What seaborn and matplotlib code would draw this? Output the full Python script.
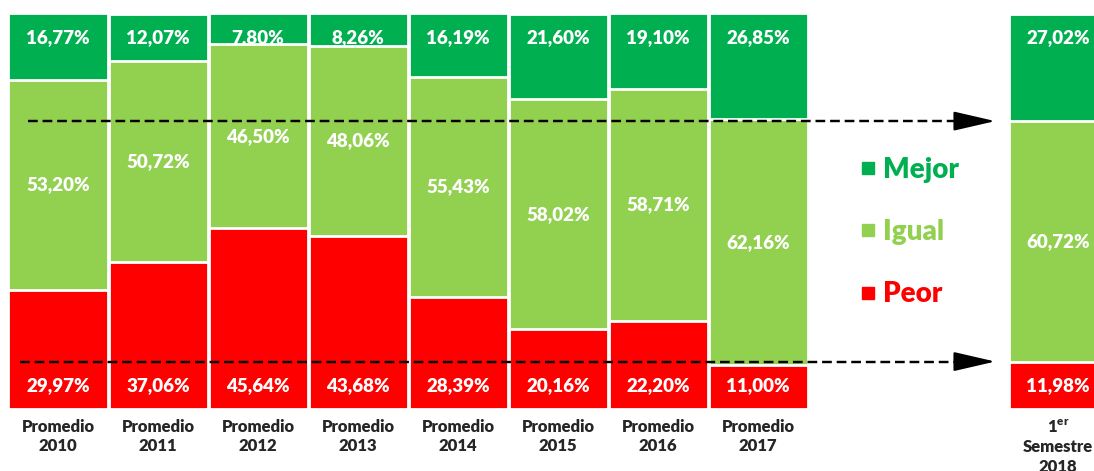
import matplotlib
matplotlib.use("Agg")
import matplotlib.pyplot as plt
from matplotlib.lines import Line2D
import pandas as pd
import seaborn as sns

# Chart data
PERIODS = ["Promedio\n2010", "Promedio\n2011", "Promedio\n2012", "Promedio\n2013",
           "Promedio\n2014", "Promedio\n2015", "Promedio\n2016", "Promedio\n2017",
           "$\\mathbf{1}^{\\mathbf{er}}$\nSemestre\n2018"]
PEOR = [29.97, 37.06, 45.64, 43.68, 28.39, 20.16, 22.20, 11.00, 11.98]
IGUAL = [53.20, 50.72, 46.50, 48.06, 55.43, 58.02, 58.71, 62.16, 60.72]
MEJOR = [16.77, 12.07, 7.80, 8.26, 16.19, 21.60, 19.10, 26.85, 27.02]

COLORS = {"Mejor": "#00B050", "Igual": "#92D050", "Peor": "#FF0000"}

sns.set_style("white")
plt.rcParams["font.family"] = ["Lato", "DejaVu Sans"]
plt.rcParams["mathtext.fontset"] = "custom"
plt.rcParams["mathtext.bf"] = "Lato:heavy"
plt.rcParams["mathtext.rm"] = "Lato:heavy"

df = pd.DataFrame({"periodo": PERIODS, "peor": PEOR, "igual": IGUAL, "mejor": MEJOR})
df["cum_igual"] = df["peor"] + df["igual"]
df["cum_mejor"] = df["cum_igual"] + df["mejor"]

# two blank slots leave room for the legend before the last bar
order = PERIODS[:8] + [" ", "  "] + PERIODS[8:]

fig = plt.figure(figsize=(10.94, 4.71), dpi=100)
ax = fig.add_axes([0, 62 / 471, 1, 396 / 471])

bar_kw = dict(data=df, x="periodo", order=order, width=0.99, saturation=1,
              edgecolor="white", linewidth=2, ax=ax)
# Draw totals first, then cover with the lower segments
sns.barplot(y="cum_mejor", color=COLORS["Mejor"], zorder=1, **bar_kw)
sns.barplot(y="cum_igual", color=COLORS["Igual"], zorder=3, **bar_kw)
sns.barplot(y="peor", color=COLORS["Peor"], zorder=5, **bar_kw)

fmt = lambda v: f"{v:.2f}%".replace(".", ",")
lbl_kw = dict(ha="center", va="center", color="white", fontsize=13.5, fontweight="heavy")
for i, row in df.iterrows():
    xpos = order.index(row["periodo"])
    # Mejor label sits at the top (partly hidden behind Igual when the segment is thin)
    ax.text(xpos, 93.7, fmt(row["mejor"]), zorder=2, **lbl_kw)
    ax.text(xpos, row["peor"] + row["igual"] / 2, fmt(row["igual"]), zorder=4, **lbl_kw)
    ax.text(xpos, 6.0, fmt(row["peor"]), zorder=6, **lbl_kw)

# Dashed reference arrows towards the last bar
last = df.iloc[-1]
for y, x0 in [(last["cum_igual"], -0.3), (last["peor"], -0.38)]:
    ax.plot([x0, 9.1], [y, y], color="black", lw=1.75, ls=(0, (4, 2)), zorder=8)
    ax.annotate("", xy=(9.4, y), xytext=(9.05, y),
                arrowprops=dict(arrowstyle="-|>,head_length=1.3,head_width=0.3",
                                color="black", lw=1.5, mutation_scale=20), zorder=8)

ax.set_xlim(-0.58, 10.36)
ax.set_ylim(0, 100)
ax.set_xlabel("")
ax.set_ylabel("")
ax.set_yticks([])
sns.despine(ax=ax, left=True, bottom=True)
ax.tick_params(axis="x", length=0, pad=7, labelsize=12)
for t in ax.get_xticklabels():
    t.set_fontweight("heavy")
    t.set_linespacing(1.25)

handles = [Line2D([], [], marker="s", ls="", color=COLORS[k], markersize=9) for k in COLORS]
fig.legend(handles, list(COLORS), loc="center", bbox_to_anchor=(0.83, 0.507),
           frameon=False, labelcolor=list(COLORS.values()), handlelength=0.8,
           handletextpad=0.15, labelspacing=1.3,
           prop={"family": "Lato", "weight": "heavy", "size": 20})

fig.savefig("out.png", dpi=100)
